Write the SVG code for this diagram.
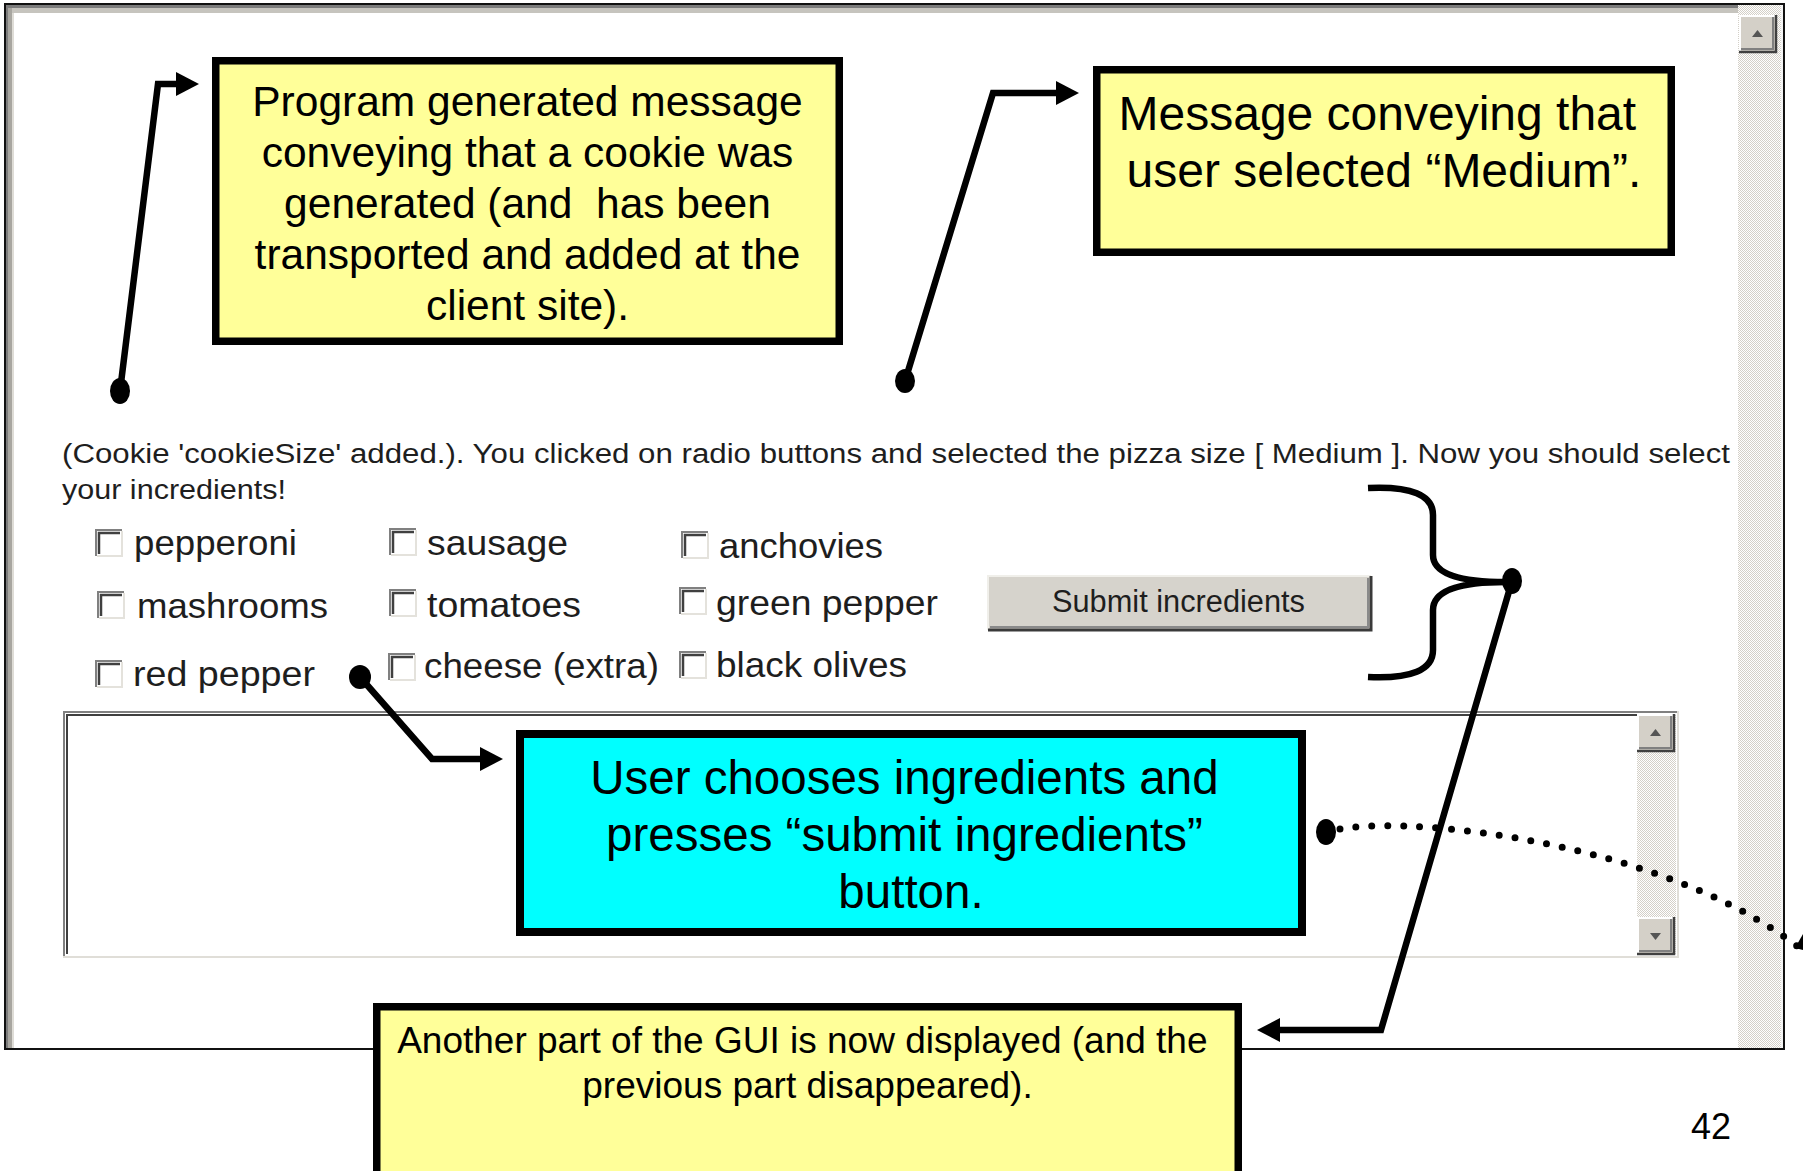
<svg xmlns="http://www.w3.org/2000/svg" xmlns:xlink="http://www.w3.org/1999/xlink" width="1803" height="1171" viewBox="0 0 1803 1171">
  <style>
    .note { font-family: "Liberation Sans", Arial, sans-serif; fill: #000; text-anchor: middle; }
    .gui { font-family: "Liberation Sans", Arial, sans-serif; fill: #1e1e1e; }
    .lbl { font-size: 35px; }
    .box-yellow { fill: #ffff99; stroke: #000; stroke-width: 7.5; }
    .box-cyan { fill: #00ffff; stroke: #000; stroke-width: 8; }
    .conn { fill: none; stroke: #000; stroke-width: 6.5; stroke-linejoin: miter; }
    .dot { fill: #000; }
  </style>
  <defs>
    <pattern id="track" width="2" height="2" patternUnits="userSpaceOnUse">
      <rect width="2" height="2" fill="#ffffff"/>
      <rect width="1" height="1" fill="#d4d0c8"/>
      <rect x="1" y="1" width="1" height="1" fill="#d4d0c8"/>
    </pattern>
    <marker id="head" viewBox="0 -12 23 24" refX="0" refY="0" markerWidth="23" markerHeight="24" markerUnits="userSpaceOnUse" orient="auto">
      <path d="M0,-12 L23,0 L0,12 z" fill="#000"/>
    </marker>
    <!-- sunken Windows-classic checkbox, 26px -->
    <g id="cbox">
      <rect x="0" y="0" width="26" height="26" fill="#ffffff"/>
      <path d="M0,26 V0 H26" fill="none" stroke="#808080" stroke-width="2"/>
      <path d="M3,24 V3 H24" fill="none" stroke="#404040" stroke-width="2.5"/>
      <path d="M1,26 H26 V1" fill="none" stroke="#e4e2dc" stroke-width="2"/>
    </g>
    <!-- scrollbar arrow buttons -->
    <g id="btnUp">
      <rect x="0" y="0" width="37" height="37" fill="#d4d0c8"/>
      <path d="M1,36 V1 H36" fill="none" stroke="#ffffff" stroke-width="2"/>
      <path d="M0,37 H37 V0" fill="none" stroke="#404040" stroke-width="2.5"/>
      <path d="M2,34 H34 V2" fill="none" stroke="#808080" stroke-width="2"/>
      <path d="M13,22 L18.5,15 L24,22 z" fill="#555"/>
    </g>
    <g id="btnDown">
      <rect x="0" y="0" width="37" height="37" fill="#d4d0c8"/>
      <path d="M1,36 V1 H36" fill="none" stroke="#ffffff" stroke-width="2"/>
      <path d="M0,37 H37 V0" fill="none" stroke="#404040" stroke-width="2.5"/>
      <path d="M2,34 H34 V2" fill="none" stroke="#808080" stroke-width="2"/>
      <path d="M13,16 L18.5,23 L24,16 z" fill="#555"/>
    </g>
  </defs>

  <rect width="1803" height="1171" fill="#ffffff"/>

  <!-- browser window frame -->
  <g id="window">
    <rect x="5" y="4" width="1779" height="1045" fill="#ffffff" stroke="#111" stroke-width="2"/>
    <rect x="6" y="5" width="1732" height="3" fill="#7c7c7c"/>
    <rect x="6" y="8" width="1732" height="5" fill="#c6c4be"/>
    <rect x="6" y="5" width="2" height="1043" fill="#7c7c7c"/>
    <rect x="8" y="8" width="4" height="1040" fill="#a8a6a0"/>
    <rect x="12" y="13" width="2" height="1035" fill="#dedcd6"/>
    <!-- vertical scrollbar -->
    <rect x="1738" y="5" width="44" height="1043" fill="url(#track)"/>
    <rect x="1781" y="5" width="2" height="1043" fill="#f4f4f4"/>
    <use xlink:href="#btnUp" x="1739" y="15"/>
  </g>

  <!-- status message -->
  <g id="status">
    <text class="gui" x="62" y="463" font-size="27" textLength="1668" lengthAdjust="spacingAndGlyphs">(Cookie 'cookieSize' added.). You clicked on radio buttons and selected the pizza size [ Medium ]. Now you should select</text>
    <text class="gui" x="62" y="499" font-size="27" textLength="224" lengthAdjust="spacingAndGlyphs">your incredients!</text>
  </g>

  <!-- ingredient checkboxes -->
  <g id="ingredients">
    <use xlink:href="#cbox" x="96" y="530"/>
    <use xlink:href="#cbox" x="98" y="592"/>
    <use xlink:href="#cbox" x="96" y="661"/>
    <use xlink:href="#cbox" x="390" y="529"/>
    <use xlink:href="#cbox" x="390" y="590"/>
    <use xlink:href="#cbox" x="389" y="654"/>
    <use xlink:href="#cbox" x="682" y="532"/>
    <use xlink:href="#cbox" x="680" y="588"/>
    <use xlink:href="#cbox" x="680" y="652"/>
    <text class="gui lbl" x="134" y="555" textLength="163" lengthAdjust="spacingAndGlyphs">pepperoni</text>
    <text class="gui lbl" x="137" y="618" textLength="191" lengthAdjust="spacingAndGlyphs">mashrooms</text>
    <text class="gui lbl" x="133" y="686" textLength="182" lengthAdjust="spacingAndGlyphs">red pepper</text>
    <text class="gui lbl" x="427" y="555" textLength="141" lengthAdjust="spacingAndGlyphs">sausage</text>
    <text class="gui lbl" x="427" y="617" textLength="154" lengthAdjust="spacingAndGlyphs">tomatoes</text>
    <text class="gui lbl" x="424" y="678" textLength="235" lengthAdjust="spacingAndGlyphs">cheese (extra)</text>
    <text class="gui lbl" x="719" y="558" textLength="164" lengthAdjust="spacingAndGlyphs">anchovies</text>
    <text class="gui lbl" x="716" y="615" textLength="222" lengthAdjust="spacingAndGlyphs">green pepper</text>
    <text class="gui lbl" x="716" y="677" textLength="191" lengthAdjust="spacingAndGlyphs">black olives</text>
  </g>

  <!-- submit button -->
  <g id="submit-button">
    <rect x="988" y="576" width="383" height="54" fill="#d6d3cc"/>
    <path d="M988,630 V576 H1371" fill="none" stroke="#f0efea" stroke-width="2"/>
    <path d="M988,630 H1371 V576" fill="none" stroke="#3a3a3a" stroke-width="3"/>
    <path d="M990,627 H1368 V578" fill="none" stroke="#8a8a8a" stroke-width="2"/>
    <text class="gui" x="1052" y="612" font-size="31" textLength="253" lengthAdjust="spacingAndGlyphs">Submit incredients</text>
  </g>

  <!-- text area -->
  <g id="textarea">
    <rect x="63" y="711" width="1615" height="246" fill="#ffffff"/>
    <path d="M64,957 V712 H1678" fill="none" stroke="#808080" stroke-width="2"/>
    <path d="M67,954 V715 H1676" fill="none" stroke="#404040" stroke-width="2"/>
    <path d="M63,957 H1678 V711" fill="none" stroke="#e0ded8" stroke-width="2"/>
    <rect x="1637" y="714" width="39" height="241" fill="url(#track)"/>
    <use xlink:href="#btnUp" x="1637" y="714"/>
    <use xlink:href="#btnDown" x="1637" y="917"/>
  </g>

  <!-- annotation callouts -->
  <g id="note-cookie">
    <rect class="box-yellow" x="215.75" y="60.75" width="623.5" height="280.5"/>
    <text class="note" font-size="42.5" xml:space="preserve"><tspan x="527.5" y="116">Program generated message</tspan><tspan x="527.5" y="167">conveying that a cookie was</tspan><tspan x="527.5" y="218">generated (and  has been</tspan><tspan x="527.5" y="269">transported and added at the</tspan><tspan x="527.5" y="320">client site).</tspan></text>
  </g>

  <g id="note-medium">
    <rect class="box-yellow" x="1096.75" y="69.75" width="574.5" height="182.5"/>
    <text class="note" font-size="48">
      <tspan x="1384" y="130">Message conveying that</tspan>
      <tspan x="1384" y="187">user selected “Medium”.</tspan>
    </text>
  </g>

  <g id="note-choose">
    <rect class="box-cyan" x="520" y="734" width="782" height="198"/>
    <text class="note" font-size="47.5">
      <tspan x="911" y="794">User chooses ingredients and</tspan>
      <tspan x="911" y="851">presses “submit ingredients”</tspan>
      <tspan x="911" y="908">button.</tspan>
    </text>
  </g>

  <g id="note-gui">
    <rect class="box-yellow" x="376.75" y="1006.75" width="861.5" height="170"/>
    <text class="note" font-size="37">
      <tspan x="807.5" y="1053">Another part of the GUI is now displayed (and the</tspan>
      <tspan x="807.5" y="1098">previous part disappeared).</tspan>
    </text>
  </g>

  <!-- connectors -->
  <g id="connectors">
    <path class="conn" d="M120,391 L158,84 L176,84" marker-end="url(#head)"/>
    <ellipse class="dot" cx="120" cy="391" rx="10" ry="13"/>

    <path class="conn" d="M905,381 L993,93 L1056,93" marker-end="url(#head)"/>
    <ellipse class="dot" cx="905" cy="381" rx="10" ry="12"/>

    <path class="conn" d="M360,677 L432,759 L480,759" marker-end="url(#head)"/>
    <ellipse class="dot" cx="360" cy="677" rx="11" ry="12"/>

    <!-- brace grouping the ingredient form -->
    <path class="conn" stroke-width="7" d="M1368,488 Q1433,485 1433,515 L1433,555 Q1433,582 1506,582 Q1433,582 1433,610 L1433,650 Q1433,680 1368,677"/>
    <path class="conn" d="M1512,581 L1381,1030 L1280,1030" marker-end="url(#head)"/>
    <ellipse class="dot" cx="1512" cy="581" rx="10" ry="13"/>

    <!-- dotted lead continuing off the page -->
    <path d="M1340,829 C1420,815 1680,845 1812,958" fill="none" stroke="#000" stroke-width="7" stroke-linecap="round" stroke-dasharray="0 16"/>
    <ellipse class="dot" cx="1326" cy="832" rx="10" ry="13"/>
    <path d="M1795,948 L1803,934 L1803,950 z" fill="#000"/>
  </g>

  <text x="1711" y="1139" font-family="'Liberation Sans', Arial, sans-serif" font-size="36" text-anchor="middle" fill="#000">42</text>
</svg>
